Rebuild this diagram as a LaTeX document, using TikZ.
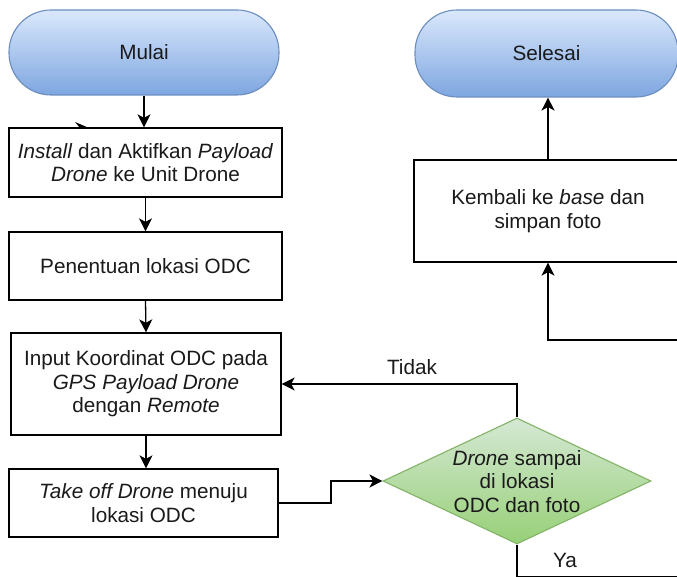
\documentclass[tikz,border=0pt]{standalone}
\usepackage{fontspec}
\setmainfont{Liberation Sans}
\usetikzlibrary{shapes.geometric,arrows.meta}
\definecolor{blueTop}{HTML}{DAE8FC}
\definecolor{blueBot}{HTML}{7EA6E0}
\definecolor{blueLine}{HTML}{6C8EBF}
\definecolor{greenTop}{HTML}{D5E8D4}
\definecolor{greenBot}{HTML}{97D077}
\definecolor{greenLine}{HTML}{82B366}
\definecolor{txt}{HTML}{1A1A1A}
\tikzset{
  every node/.style={font=\fontsize{20.7}{23.5}\selectfont, text=txt, align=center, inner sep=0pt},
  terminal/.style={draw=blueLine, line width=1.1pt, rounded corners=42pt, top color=blueTop, bottom color=blueBot},
  procbox/.style={draw=black, line width=1.3pt, fill=white},
  decision/.style={diamond, draw=greenLine, line width=1.1pt, top color=greenTop, bottom color=greenBot},
  conn/.style={draw=black, line width=1.3pt},
  arr/.style={conn, -{Stealth[length=13pt, width=13pt, inset=3.5pt]}},
  lbl/.style={font=\fontsize{20.7}{23.5}\selectfont}
}
\begin{document}
\begin{tikzpicture}[x=1pt, y=-1pt]
\useasboundingbox (0,0) rectangle (677,577);
\clip (0,0) rectangle (677,577);
\fill[white] (0,0) rectangle (677,577);

% stray arrow tip behind the first box
\fill[black] (75,122) -- (89,128) -- (80,128) -- cycle;

\node[terminal, minimum width=270pt, minimum height=85pt] (mulai) at (144,52.5) {Mulai};
\node[procbox, minimum width=273pt, minimum height=69pt] (install) at (145.5,162.5)
  {\textit{Install} dan Aktifkan \textit{Payload}\\\textit{Drone} ke Unit Drone};
\node[procbox, minimum width=273pt, minimum height=68pt] (penentuan) at (145.5,266) {Penentuan lokasi ODC};
\node[procbox, minimum width=270pt, minimum height=102pt] (input) at (146,384)
  {Input Koordinat ODC pada\\\textit{GPS Payload Drone}\\dengan \textit{Remote}};
\node[procbox, minimum width=269pt, minimum height=68pt] (takeoff) at (143.5,503)
  {\textit{Take off Drone} menuju\\lokasi ODC};
\node[decision, minimum width=268pt, minimum height=126pt] (dia) at (517,481) {};
\node (diatext) at (517,481.5) {\textit{Drone} sampai\\di lokasi\\ODC dan foto};
\node[procbox, minimum width=268pt, minimum height=102pt] (kembali) at (548,211)
  {Kembali ke \textit{base} dan\\simpan foto};
\node[terminal, minimum width=263pt, minimum height=87pt] (selesai) at (546.5,53.5) {Selesai};

\coordinate (k1) at (331,503);
\coordinate (ybot) at (517,577);
\coordinate (yright) at (700,577);
\coordinate (ret) at (700,340);

\draw[arr] (mulai.south) -- (mulai.south |- install.north);
\draw[arr] (install.south) -- (penentuan.north);
\draw[arr] (penentuan.south) -- (input.north);
\draw[arr] (input.south) -- (input.south |- takeoff.north);
\draw[arr] (takeoff.east) -- (k1) |- (dia.west);
\draw[arr] (dia.north) |- (input.east);
\draw[conn] (dia.south) -- (ybot) -- (yright);
\draw[arr] (ret) -| (kembali.south);
\draw[arr] (kembali.north) -- (kembali.north |- selesai.south);

\node[lbl] (tidak) at (412,367) {Tidak};
\node[lbl] (ya) at (565,560) {Ya};
\end{tikzpicture}
\end{document}
